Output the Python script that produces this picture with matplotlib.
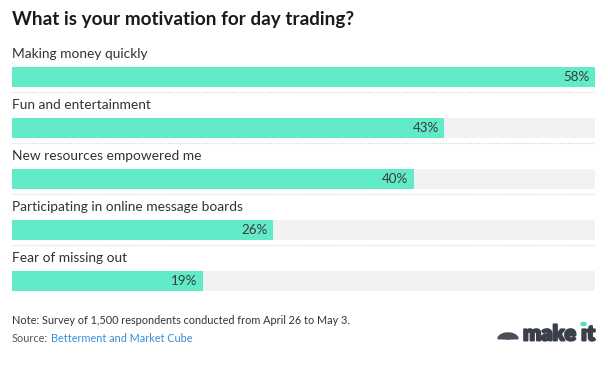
import matplotlib.pyplot as plt
import matplotlib.patheffects as pe
from matplotlib.patches import Wedge, Circle

plt.rcParams['font.family'] = ['Lato', 'DejaVu Sans']

labels = ["Making money quickly", "Fun and entertainment", "New resources empowered me",
          "Participating in online message boards", "Fear of missing out"]
values = [58, 43, 40, 26, 19]
max_val = 58

W, H = 608, 368
fig = plt.figure(figsize=(W / 100, H / 100), dpi=100)
fig.patch.set_facecolor('white')

# axes in pixel terms: rows 51 px apart, first bar centred at y=77
row = 51
top_px, bot_px = 41, 306
ax = fig.add_axes([12 / W, 1 - bot_px / H, (595 - 12) / W, (bot_px - top_px) / H])
ax.set_xlim(0, max_val)
ax.set_ylim((bot_px - 77) / row, (top_px - 77) / row)
ax.axis('off')

bh = 20 / row
ys = list(range(len(values)))
ax.barh(ys, [max_val] * len(values), height=bh, color='#f2f2f2', zorder=1)
ax.barh(ys, values, height=bh, color='#61ebc9', zorder=2)

for i, (lab, v) in enumerate(zip(labels, values)):
    ax.text(0, i - 23 / row, lab, ha='left', va='center', fontsize=9.9, color='#333333')
    ax.annotate(f"{v}%", (v, i), xytext=(-4, 0), textcoords='offset points',
                ha='right', va='center', fontsize=9.6, color='#3a3a3a', zorder=3)
    if i < len(values) - 1:
        ax.plot([0, max_val], [i + 15 / row] * 2, color='#cfcfcf', lw=0.8,
                ls=(0, (1, 1.5)), zorder=1)

fig.text(12 / W, 1 - 19 / H, "What is your motivation for day trading?", ha='left', va='center',
         fontsize=13.6, fontweight='bold', color='#1a1a1a')
fig.text(12 / W, 1 - 320 / H, "Note: Survey of 1,500 respondents conducted from April 26 to May 3.",
         ha='left', va='center', fontsize=7.8, color='#333333')
src = fig.text(12 / W, 1 - 338 / H, "Source:", ha='left', va='center', fontsize=7.8, color='#555555')
r = fig.canvas.get_renderer()
bb = src.get_window_extent(r)
fig.text((bb.x1 + 3) / W, 1 - 338 / H, "Betterment and Market Cube", ha='left', va='center',
         fontsize=7.8, color='#3a8fd6')

# make it logo
logo = fig.text(595 / W, 1 - 334 / H, "make \u0131t", ha='right', va='center', fontsize=15.5,
                fontweight='heavy', color='#3b3f4a',
                path_effects=[pe.withStroke(linewidth=1.4, foreground='#3b3f4a')])
lb = logo.get_window_extent(r)
fig.patches.append(Circle(((lb.x1 - 11.5) / W, 1 - 324 / H), 2.6 / W, color='#4fe0c0',
                          transform=fig.transFigure, figure=fig, zorder=5))
for k in range(6):
    a0 = k * 30
    fig.patches.append(Wedge((508 / W, 1 - 339 / H), 10 / W, a0 + 3, a0 + 27, color='#4a4e57',
                             transform=fig.transFigure, figure=fig))

fig.savefig('out.png', dpi=100)
